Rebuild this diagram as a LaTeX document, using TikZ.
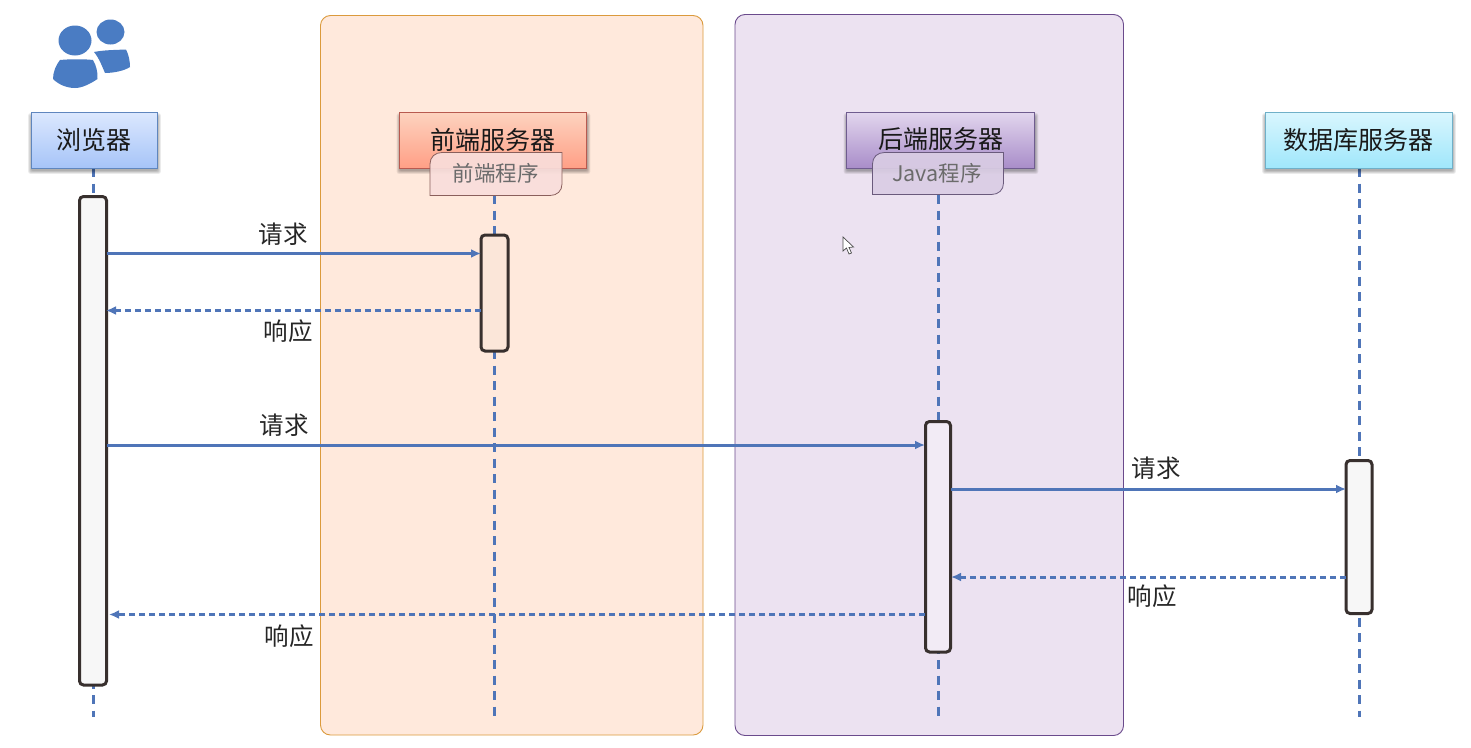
\documentclass[tikz,border=0pt]{standalone}
\usepackage{fontspec}
\setmainfont{Noto Sans CJK SC}
\usetikzlibrary{arrows.meta,calc}
\definecolor{lineblue}{HTML}{4F75B8}
\definecolor{darkbar}{HTML}{38302E}
\definecolor{iconblue}{HTML}{4A7CC3}
\definecolor{panelO}{HTML}{FFE9DC}
\definecolor{panelOd}{HTML}{DB9A3C}
\definecolor{panelV}{HTML}{ECE2F1}
\definecolor{panelVd}{HTML}{6A4A8C}
\definecolor{barO}{HTML}{FBE6D9}
\definecolor{browT}{HTML}{DCE8FE}\definecolor{browB}{HTML}{A6C4F8}\definecolor{browD}{HTML}{5F86BE}
\definecolor{frontT}{HTML}{FDD3BF}\definecolor{frontB}{HTML}{FF9F86}\definecolor{frontD}{HTML}{B85A50}
\definecolor{backT}{HTML}{E2D6EE}\definecolor{backB}{HTML}{A98DC9}\definecolor{backD}{HTML}{6F5C8F}
\definecolor{dbT}{HTML}{D9F6FE}\definecolor{dbB}{HTML}{A0E7FB}\definecolor{dbD}{HTML}{6FB0C8}
\definecolor{fprogF}{HTML}{F9DEDB}\definecolor{fprogD}{HTML}{8A5F5C}
\definecolor{jprogF}{HTML}{DACDE4}\definecolor{jprogD}{HTML}{6A5A7C}
\tikzset{
  x=1pt,y=-1pt,
  panel/.style={rounded corners=10pt,line width=0.9pt},
  head/.style={line width=0.9pt,font=\fontsize{25}{26}\selectfont,text=black!90,minimum height=56pt,inner sep=0pt},
  lifeline/.style={lineblue,line width=3pt,dash pattern=on 9pt off 6.5pt},
  bar/.style={rounded corners=4pt,line width=3pt,draw=darkbar},
  req/.style={lineblue,line width=3pt,-{Latex[length=10pt,width=9pt]}},
  resp/.style={lineblue,line width=3pt,dash pattern=on 6.5pt off 3.5pt,-{Latex[length=10pt,width=9pt]}},
  lab/.style={font=\fontsize{24.5}{26}\selectfont,text=black!85,inner sep=0pt},
  prog/.style={font=\fontsize{21.5}{23}\selectfont,text=black!58,inner sep=0pt},
  person/.style={fill=iconblue,draw=none},
}
\newcommand{\softshadow}[4]{%
  \foreach \s in {4,3,2,1,0}{%
    \fill[black,opacity=.07,rounded corners=2pt]
      ({#1-\s*0.7},{#2+4-\s*0.7}) rectangle ({#3+1+\s*0.7},{#4+3+\s*0.7});
  }}
\begin{document}
\begin{tikzpicture}
\useasboundingbox (0,0) rectangle (1471,747);
\fill[white] (0,0) rectangle (1471,747);
% panels
\draw[panel,draw=panelOd,fill=panelO] (320.5,15.5) rectangle (703,735);
\draw[panel,draw=panelVd,fill=panelV] (735,14.5) rectangle (1123.5,735.5);
% person icon
\fill[person] (75,40.5) ellipse [x radius=16.5,y radius=15];
\fill[person] (110.5,32) ellipse [x radius=14,y radius=12.5];
\fill[person] (60,60) .. controls (70,59) and (85,59) .. (93,60)
   .. controls (96,65) and (98,72) .. (97.5,79) .. controls (90,84) and (82,88) .. (75,88)
   .. controls (66,88) and (58,84) .. (53,79) .. controls (53,72) and (56,65) .. (60,60) -- cycle;
\fill[person] (94,52) .. controls (104,50) and (115,50) .. (126,49.5)
   .. controls (129,55) and (130,62) .. (130,67) .. controls (124,71) and (113,73) .. (105,73)
   .. controls (102,66) and (99,58) .. (94,52) -- cycle;
% lifelines
\coordinate (ua) at (93.5,168); \coordinate (ub) at (93.5,717);
\coordinate (fa) at (494,195); \coordinate (fb) at (494,717);
\coordinate (ja) at (938.5,195); \coordinate (jb) at (938.5,717);
\coordinate (da) at (1359.5,168); \coordinate (dbot) at (1359.5,717);
\draw[lifeline] (ua) -- (ub);
\draw[lifeline] (fa) -- (fb);
\draw[lifeline] (ja) -- (jb);
\draw[lifeline] (da) -- (dbot);
% heads
\softshadow{31}{112}{157}{168}
\softshadow{399.5}{112}{586.5}{168}
\softshadow{846.5}{112}{1034.5}{168}
\softshadow{1265}{112}{1452}{168}
\node[head,draw=browD,top color=browT,bottom color=browB,minimum width=126pt] (browser) at (94,140) {浏览器};
\node[head,draw=frontD,top color=frontT,bottom color=frontB,minimum width=187pt,text=black] (front) at (493,140) {};
\node[head,draw=backD,top color=backT,bottom color=backB,minimum width=188pt] (back) at (940.5,140) {};
\node[head,draw=dbD,top color=dbT,bottom color=dbB,minimum width=187pt] (dbs) at (1358.5,140) {数据库服务器};
\node[head,minimum height=0pt] (fronttxt) at (493,139.5) {前端服务器};
\node[head,minimum height=0pt] (backtxt) at (940.5,139.5) {后端服务器};
% program boxes
\draw[draw=fprogD,line width=.8pt,fill=fprogF,fill opacity=.92]
  (430,164) .. controls (430,157) and (435,152.5) .. (442,152.5) -- (562,152.5) -- (562,184) .. controls (562,191) and (557,195.5) .. (550,195.5) -- (430,195.5) -- cycle;
\node[prog] (fprog) at (495.5,173.5) {前端程序};
\draw[draw=jprogD,line width=.8pt,fill=jprogF,fill opacity=.92]
  (872.5,164) .. controls (872.5,157) and (877.5,152.5) .. (884.5,152.5) -- (1003.5,152.5) -- (1003.5,183) .. controls (1003.5,190) and (998.5,194.5) .. (991.5,194.5) -- (872.5,194.5) -- cycle;
\node[prog] (jprog) at (937,173.5) {Java程序};
% bars
\draw[bar,fill=black!3] (79.5,196.5) rectangle (106.5,685);
\draw[bar,fill=barO] (481,235) rectangle (508,351);
\draw[bar,fill=panelV!70!white] (925.5,421.5) rectangle (950.5,652);
\draw[bar,fill=black!3] (1346,460.5) rectangle (1372,613.5);
% named anchors
\coordinate (b1) at (107,253.5); \coordinate (f1) at (481,253.5);
\coordinate (f2) at (481,310.5); \coordinate (b2) at (106,310.5);
\coordinate (b3) at (107,445); \coordinate (j3) at (925,445);
\coordinate (j4) at (951,489); \coordinate (d4) at (1346,489);
\coordinate (d5) at (1346,577); \coordinate (j5) at (951,577);
\coordinate (j6) at (925,614.5); \coordinate (b6) at (109,614.5);
\draw[req] (b1) -- (f1);
\draw[resp] (f2) -- (b2);
\draw[req] (b3) -- (j3);
\draw[req] (j4) -- (d4);
\draw[resp] (d5) -- (j5);
\draw[resp] (j6) -- (b6);
% labels
\node[lab] (l1) at (283,234) {请求};
\node[lab] (l2) at (288,331.5) {响应};
\node[lab] (l3) at (284,425) {请求};
\node[lab] (l4) at (1156,468) {请求};
\node[lab] (l5) at (1152,596.5) {响应};
\node[lab] (l6) at (289,636.5) {响应};
% cursor
\draw[black!70,fill=white,line width=.7pt] (843,237) -- (843,251) -- (846.5,248) -- (849,254) -- (851.5,253) -- (849,247.5) -- (853.5,247) -- cycle;
\end{tikzpicture}
\end{document}
